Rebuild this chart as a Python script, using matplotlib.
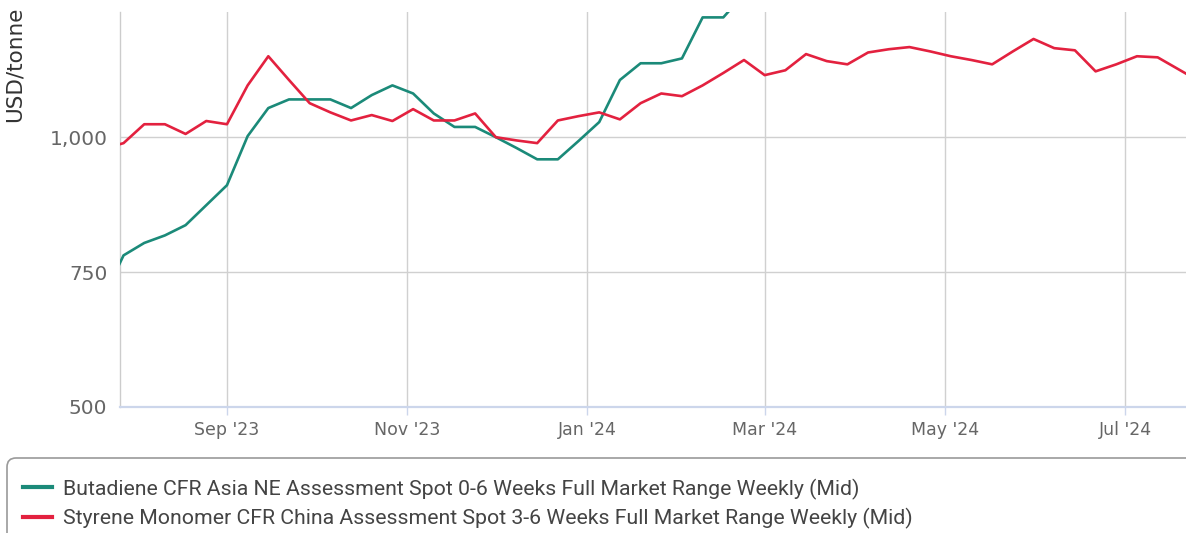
import matplotlib
matplotlib.use("Agg")
import matplotlib.pyplot as plt
import matplotlib.dates as mdates
from matplotlib.patches import FancyBboxPatch
from matplotlib.transforms import IdentityTransform
import pandas as pd

# weekly assessments, Fridays
first_week = "2023-07-21"

butadiene = [700, 781, 804, 818, 837, 874, 911, 1002, 1054, 1070, 1070, 1070,
             1054, 1078, 1096, 1081, 1044, 1019, 1019, 1000, 980, 959, 959,
             993, 1028, 1106, 1137, 1137, 1146, 1222, 1222, 1265]

styrene = [978, 989, 1024, 1024, 1006, 1030, 1024, 1096, 1150, 1106, 1063,
           1046, 1031, 1041, 1030, 1052, 1031, 1031, 1044, 1000, 994, 989,
           1031, 1039, 1046, 1033, 1063, 1081, 1076, 1096, 1119, 1143, 1115,
           1124, 1154, 1141, 1135, 1157, 1163, 1167, 1159, 1150, 1143, 1135,
           1159, 1182, 1165, 1161, 1122, 1135, 1150, 1148, 1126, 1104]

label_bd = "Butadiene CFR Asia NE Assessment Spot 0-6 Weeks Full Market Range Weekly (Mid)"
label_sm = "Styrene Monomer CFR China Assessment Spot 3-6 Weeks Full Market Range Weekly (Mid)"

yticks = [500, 750, 1000]
ytick_labels = ["500", "750", "1,000"]
xtick_months = ["2023-09-01", "2023-11-01", "2024-01-01", "2024-03-01",
                "2024-05-01", "2024-07-01"]

green = "#1b8a79"
red = "#e3213f"
grey_txt = "#666666"

dates_sm = pd.date_range(first_week, periods=len(styrene), freq="7D")
dates_bd = dates_sm[:len(butadiene)]

W, H = 1186, 533
fig = plt.figure(figsize=(W / 100, H / 100), dpi=100)
ax = fig.add_axes([120 / W, 1 - 407 / H, 1 - 120 / W, (407 - 12) / H])

ax.plot(dates_bd, butadiene, color=green, lw=1.9, label=label_bd,
        solid_joinstyle="round", zorder=3)
ax.plot(dates_sm, styrene, color=red, lw=1.9, label=label_sm,
        solid_joinstyle="round", zorder=3)

x0 = pd.Timestamp("2023-07-28")
ax.set_xlim(mdates.date2num(x0) - 1.2, mdates.date2num(x0) + 359.6)
ax.set_ylim(500, 1232)

ax.set_yticks(yticks)
ax.set_yticklabels(ytick_labels)
ax.set_xticks(pd.to_datetime(xtick_months))
ax.xaxis.set_major_formatter(mdates.DateFormatter("%b '%y"))

ax.grid(True, color="#d0d0d0", lw=1)
ax.set_axisbelow(True)
for s in ["top", "right"]:
    ax.spines[s].set_visible(False)
ax.spines["bottom"].set_color("#ccd6eb")
ax.spines["bottom"].set_linewidth(1.6)
ax.spines["left"].set_color("#cccccc")
ax.spines["left"].set_linewidth(1)

ax.tick_params(axis="y", length=0, pad=9, labelsize=14.5, labelcolor=grey_txt)
ax.tick_params(axis="x", length=6, width=1, color="#ccd6eb", pad=4,
               labelsize=12.5, labelcolor=grey_txt)

fig.text(15 / W, 1 - 122 / H, "USD/tonne", rotation=90, ha="center",
         va="bottom", fontsize=15.5, color="#333333")

# legend box, cut off at the bottom and right like the reference
box = FancyBboxPatch((7, -30), 1300, 533 - 458 + 30,
                     boxstyle="round,pad=0,rounding_size=9",
                     transform=IdentityTransform(), facecolor="white",
                     edgecolor="#9a9a9a", lw=1.2, zorder=0)
fig.add_artist(box)

leg = fig.legend(loc="upper left", bbox_to_anchor=(14 / W, 1 - 470 / H),
                 frameon=False, handlelength=1.4, prop={"family": "Roboto", "size": 15.3},
                 handletextpad=0.5, labelspacing=0.4, borderaxespad=0)
for t in leg.get_texts():
    t.set_color("#444444")
for l in leg.get_lines():
    l.set_linewidth(3)

fig.savefig("out.png", dpi=100)
